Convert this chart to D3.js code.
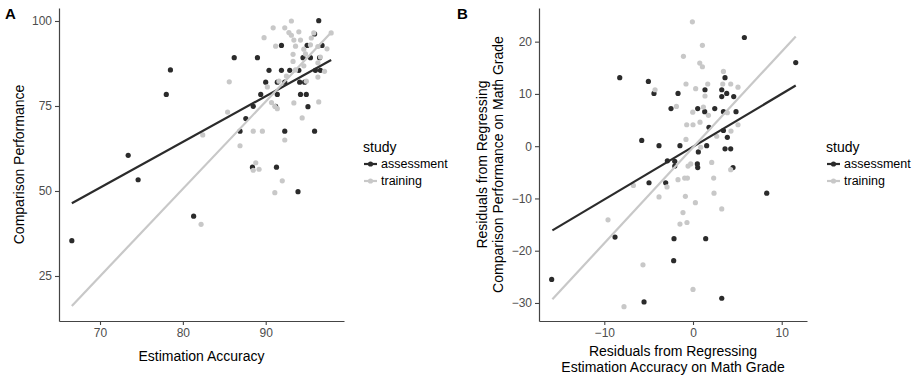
<!DOCTYPE html>
<html>
<head>
<meta charset="utf-8">
<script src="https://cdn.jsdelivr.net/npm/d3@7"></script>
<style>
  html, body { margin: 0; padding: 0; background: #fff; }
  svg { display: block; font-family: "Liberation Sans", Arial, Helvetica, sans-serif; }
</style>
</head>
<body>
<svg id="chart" width="918" height="380"></svg>
<script>
// ---------------- DATA ----------------
const studies = ["assessment", "training"];

// Panel A: Estimation Accuracy (x) vs Comparison Performance (y)
const aAssessX = [66.6, 73.4, 74.6, 81.3, 78.5, 78.0, 86.2, 89.0, 87.6, 88.5,
  86.9, 92.3, 95.9, 88.4, 91.3, 93.9, 96.4, 95.9, 91.9, 95.0,
  96.8, 94.5, 95.4, 96.5, 90.4, 91.9, 92.9, 94.0, 96.0, 96.6,
  90.0, 91.4, 92.3, 94.1, 94.7, 89.4, 91.4, 94.2, 94.9, 91.2, 95.1];
const aAssessY = [35.4, 60.5, 53.3, 42.6, 85.6, 78.4, 89.2, 89.2, 71.3, 74.9,
  67.6, 67.6, 67.6, 57.0, 57.0, 49.8, 100.1, 96.2, 92.8, 92.8,
  92.8, 89.2, 89.2, 89.2, 85.5, 85.5, 85.5, 85.5, 85.5, 85.5,
  82.0, 82.0, 82.0, 82.0, 82.0, 78.4, 78.4, 78.4, 78.4, 74.9, 74.8];
const aTrainX = [82.2, 82.4, 86.9, 88.8, 88.5, 89.2, 92.0, 91.1, 88.5, 89.6,
  92.3, 94.4, 85.6, 85.4, 93.1, 90.9, 92.3, 92.8, 94.0, 93.1,
  95.8, 97.9, 89.8, 93.4, 94.2, 95.5, 91.2, 93.6, 95.4, 96.3,
  94.6, 97.4, 93.3, 94.8, 96.6, 93.3, 96.3, 94.6, 93.6, 97.1,
  92.5, 96.3, 91.6, 94.9, 90.2, 90.7, 93.4, 96.4, 91.4, 91.1];
const aTrainY = [40.2, 66.5, 63.3, 58.3, 56.1, 56.4, 53.0, 49.5, 67.6, 67.6,
  65.0, 71.5, 82.1, 73.2, 100.0, 98.0, 98.0, 96.6, 96.8, 95.8,
  96.5, 96.5, 95.1, 94.4, 94.4, 95.0, 92.6, 92.6, 93.0, 92.5,
  91.7, 91.8, 90.2, 90.3, 89.4, 88.1, 87.7, 86.8, 85.6, 85.2,
  83.8, 83.5, 82.3, 82.3, 80.6, 76.0, 75.9, 76.2, 74.2, 74.9];
// fitted lines: [x0, x1], [y0, y1]
const aFitX = [66.6, 97.9];
const aFitAssessY = [46.4, 88.5];
const aFitTrainY = [16.2, 96.6];
const aXTicks = [70, 80, 90];
const aYTicks = [25, 50, 75, 100];

// Panel B: residuals
const bAssessX = [-8.26, 5.79, 11.58, 4.85, 4.59, -5.78, 3.61, -5.03, -4.40, -1.69,
  1.35, 3.24, 3.80, 3.24, -2.48, 0.53, 1.32, 2.45, 3.43, 1.80,
  3.43, 3.87, -3.83, -1.47, 1.54, 3.61, 4.25, 0.60, -2.89, -2.06,
  -2.06, 0.49, 0.53, 4.51, -4.96, -3.08, 8.31, -8.79, -2.14, 1.43,
  -2.18, 3.24, -5.52, -15.93];
const bAssessY = [13.1, 20.8, 16.0, 6.6, 9.5, 1.1, 13.1, 12.4, 10.1, 10.1,
  10.8, 10.8, 10.1, 9.5, 7.2, 7.2, 6.6, 7.2, 6.6, 3.6,
  3.0, 1.7, 0.1, 0.1, 0.1, -0.5, -0.5, -1.1, -2.8, -2.9,
  -3.8, -3.4, -4.1, -4.1, -7.0, -7.0, -9.0, -17.4, -17.7, -17.7,
  -21.9, -29.1, -29.8, -25.5];
const bTrainX = [-0.07, 1.06, -1.08, 0.76, 1.06, 3.43, -0.79, 1.66, 3.35, 4.25,
  5.07, -4.28, 0.30, 1.35, -1.87, 1.17, -0.03, 1.74, 3.87, -0.71,
  0.00, 0.79, 5.07, 4.28, 2.67, -0.79, 0.87, -0.56, -0.26, 2.11,
  4.25, -6.72, -2.93, -1.69, -0.94, -0.63, 2.33, -3.83, -0.86, 2.37,
  0.27, 3.24, -9.58, -1.13, -0.68, -1.47, -5.64, 0.00, -7.78];
const bTrainY = [23.8, 19.3, 17.2, 15.9, 15.2, 14.3, 11.9, 11.9, 11.9, 11.9,
  11.3, 10.8, 11.0, 9.6, 7.6, 7.5, 6.5, 5.9, 6.4, 4.1,
  4.1, 4.6, 4.1, 2.9, 1.9, 1.3, -0.2, -3.8, -3.4, -3.1,
  -4.5, -7.5, -7.8, -6.4, -6.1, -6.1, -6.1, -9.7, -9.6, -9.0,
  -10.8, -12.0, -14.1, -12.7, -14.6, -14.9, -22.7, -27.4, -30.7];
const bFitX = [-15.85, 11.58];
const bFitAssessY = [-16.1, 11.6];
const bFitTrainY = [-29.3, 21.0];
const bXTicks = [-10, 0, 10];
const bYTicks = [-30, -20, -10, 0, 10, 20];

// ---------------- DRAW ----------------
const colors = { assessment: "#2b2b2b", training: "#c8c8c8" };
const svg = d3.select("#chart");
const fmt = d => (d < 0 ? "\u2212" + Math.abs(d) : String(d));

function zip(xs, ys) { return xs.map((x, i) => [x, ys[i]]); }

function panel(opt) {
  const g = svg.append("g");
  const x = d3.scaleLinear().domain(opt.xDomain).range([opt.left, opt.right]);
  const y = d3.scaleLinear().domain(opt.yDomain).range([opt.bottom, opt.top]);

  const xAxis = g.append("g").attr("transform", `translate(0,${opt.bottom})`)
    .call(d3.axisBottom(x).tickValues(opt.xTicks).tickSizeOuter(0).tickSizeInner(4).tickPadding(3).tickFormat(fmt));
  const yAxis = g.append("g").attr("transform", `translate(${opt.left},0)`)
    .call(d3.axisLeft(y).tickValues(opt.yTicks).tickSizeOuter(0).tickSizeInner(4).tickPadding(3).tickFormat(fmt));
  [xAxis, yAxis].forEach(ax => {
    ax.select(".domain").attr("stroke", "#444").attr("stroke-width", 1.2);
    ax.selectAll(".tick line").attr("stroke", "#444").attr("stroke-width", 1.1);
    ax.selectAll(".tick text").attr("fill", "#4d4d4d").style("font-size", "12px")
      .style("font-family", '"Liberation Sans", Arial, sans-serif');
  });

  const series = [
    { key: "assessment", pts: zip(opt.assessX, opt.assessY), fit: zip(opt.fitX, opt.fitAssessY) },
    { key: "training", pts: zip(opt.trainX, opt.trainY), fit: zip(opt.fitX, opt.fitTrainY) }
  ];
  series.forEach(s => {
    g.append("g").selectAll("circle").data(s.pts).join("circle")
      .attr("cx", d => x(d[0])).attr("cy", d => y(d[1])).attr("r", 2.6)
      .attr("fill", colors[s.key]);
  });
  const line = d3.line().x(d => x(d[0])).y(d => y(d[1]));
  series.forEach(s => {
    g.append("path").datum(s.fit).attr("d", line)
      .attr("fill", "none").attr("stroke", colors[s.key]).attr("stroke-width", 2.2);
  });

  // panel letter
  svg.append("text").attr("x", opt.tagX).attr("y", 19).text(opt.tag)
    .style("font-weight", "bold").style("font-size", "15px").attr("fill", "#000");

  // axis titles
  const yt = svg.append("text").attr("transform", `translate(${opt.yTitleX},${(opt.top + opt.bottom) / 2}) rotate(-90)`)
    .attr("text-anchor", "middle").style("font-size", "14px").attr("fill", "#000");
  opt.yTitle.forEach((t, i) => yt.append("tspan").attr("x", 0).attr("dy", i === 0 ? 0 : "1.15em").text(t));
  const xt = svg.append("text").attr("transform", `translate(${(opt.left + opt.right) / 2},${opt.xTitleY})`)
    .attr("text-anchor", "middle").style("font-size", "14px").attr("fill", "#000");
  opt.xTitle.forEach((t, i) => xt.append("tspan").attr("x", 0).attr("dy", i === 0 ? 0 : "1.15em").text(t));

  // legend
  const lg = svg.append("g").attr("transform", `translate(${opt.legendX},0)`);
  lg.append("text").attr("x", 0).attr("y", 152).text("study").style("font-size", "14px").attr("fill", "#000");
  studies.forEach((k, i) => {
    const yy = 164 + i * 17;
    lg.append("line").attr("x1", 1).attr("x2", 14).attr("y1", yy).attr("y2", yy)
      .attr("stroke", colors[k]).attr("stroke-width", 2.2);
    lg.append("circle").attr("cx", 7.5).attr("cy", yy).attr("r", 2.6).attr("fill", colors[k]);
    lg.append("text").attr("x", 18).attr("y", yy + 4).text(k).style("font-size", "12.5px").attr("fill", "#000");
  });
}

panel({
  tag: "A", tagX: 5,
  left: 59, right: 344, top: 8, bottom: 321,
  xDomain: [65.05, 99.45], yDomain: [11.76, 103.82],
  xTicks: aXTicks, yTicks: aYTicks,
  assessX: aAssessX, assessY: aAssessY, trainX: aTrainX, trainY: aTrainY,
  fitX: aFitX, fitAssessY: aFitAssessY, fitTrainY: aFitTrainY,
  yTitleX: 24, yTitle: ["Comparison Performance"],
  xTitleY: 361, xTitle: ["Estimation Accuracy"],
  legendX: 363
});

panel({
  tag: "B", tagX: 457,
  left: 539, right: 807, top: 8, bottom: 321,
  xDomain: [-17.36, 12.85], yDomain: [-33.45, 26.44],
  xTicks: bXTicks, yTicks: bYTicks,
  assessX: bAssessX, assessY: bAssessY, trainX: bTrainX, trainY: bTrainY,
  fitX: bFitX, fitAssessY: bFitAssessY, fitTrainY: bFitTrainY,
  yTitleX: 487, yTitle: ["Residuals from Regressing", "Comparison Performance on Math Grade"],
  xTitleY: 356, xTitle: ["Residuals from Regressing", "Estimation Accuracy on Math Grade"],
  legendX: 826
});
</script>
</body>
</html>
